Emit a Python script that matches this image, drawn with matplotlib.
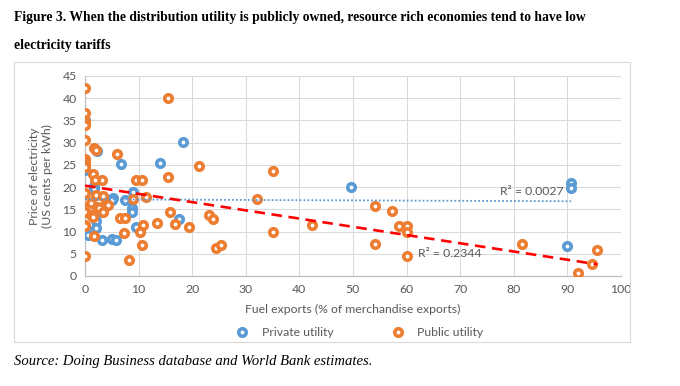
import matplotlib.pyplot as plt
import numpy as np
from matplotlib.patches import Rectangle

# fuel exports (% of merchandise exports) and price (US cents per kWh)
private_x = [0, 0, 2.2, 6.8, 14, 18.2, 1.7, 1.7, 5.3, 5.1, 7.5, 9.0, 8.7, 8.8, 3.1,
             2.0, 2.0, 0, 0.6, 3.2, 5.1, 5.7, 9.5, 17.6, 49.6, 90.7, 90.7, 89.9]
private_y = [35, 23.9, 28.2, 25.1, 25.4, 30.2, 20.3, 19.5, 17.5, 17.1, 17.1, 19.0, 15.2, 14.3, 14.3,
             12.4, 10.7, 10.7, 9.2, 8.1, 8.3, 8.1, 11.1, 12.8, 20.0, 21.0, 19.7, 6.8]

public_x = [0, 0, 0, 0, 0, 0, 0, 0, 0, 0, 0, 0, 0, 0, 0, 0,
            1.7, 2.0, 5.9, 15.5, 1.4, 3.2, 1.9, 9.6, 10.6, 15.5, 21.3, 2.0, 3.4, 9.0, 11.3,
            0.3, 1.2, 2.2, 2.7, 3.9, 4.2, 3.3, 1.2, 1.4, 6.5, 7.5, 15.9, 16.7, 13.5, 19.4,
            10.9, 10.3, 7.2, 1.6, 10.7, 8.3, 23.2, 23.9, 24.4, 25.3, 35.1, 32.0, 35.1, 42.4,
            54.1, 54.1, 57.3, 58.5, 60, 60, 60, 81.6, 95.6, 94.6, 92.0]
public_y = [42.4, 36.6, 34.9, 34.4, 33.9, 30.6, 26.3, 25.7, 25.4, 25.1, 24.6, 18.6, 14.3, 11.5, 11.2, 4.4,
            28.8, 28.4, 27.4, 40.0, 22.9, 21.5, 21.6, 21.6, 21.5, 22.2, 24.7, 18.2, 17.9, 17.3, 17.7,
            16.9, 16.4, 15.6, 15.2, 16.5, 16.0, 14.3, 13.7, 13.2, 13.0, 13.0, 14.3, 11.6, 11.9, 11.0,
            11.5, 9.8, 9.6, 8.9, 7.0, 3.6, 13.7, 12.8, 6.2, 7.0, 23.6, 17.3, 9.8, 11.5,
            15.8, 7.2, 14.6, 11.3, 11.3, 10.0, 4.5, 7.1, 5.9, 2.6, 0.6]

r2_private = "R² = 0.0027"
r2_public = "R² = 0.2344"

blue = '#5B9BD5'
orange = '#ED7D31'
gray = '#595959'
font = 'Lato'
fs = 8.8

fig = plt.figure(figsize=(6.8, 3.86), dpi=100)
ax = fig.add_axes([85/680, 1 - 276/386, 536/680, 200/386])

# chart frame
fig.patches.append(Rectangle((14/680, 1 - 342/386), 616/680, 280/386, transform=fig.transFigure,
                             fill=False, edgecolor='#D9D9D9', linewidth=0.8))

ax.plot(private_x, private_y, 'o', ms=5.4, mew=2.6, mfc='white', mec=blue,
        linestyle='none', label='Private utility', zorder=3)
ax.plot(public_x, public_y, 'o', ms=5.4, mew=2.6, mfc='white', mec=orange,
        linestyle='none', label='Public utility', zorder=4)

# linear trendlines
px = np.array(private_x)
p_fit = np.polyfit(px, private_y, 1)
xs = np.array([px.min(), px.max()])
ax.plot(xs, np.polyval(p_fit, xs), color=blue, linestyle=(0, (1, 1.2)), linewidth=1.3, zorder=5)

ux = np.array(public_x)
u_fit = np.polyfit(ux, public_y, 1)
xs = np.array([ux.min(), ux.max()])
ax.plot(xs, np.polyval(u_fit, xs), color='#FF0000', linestyle=(0, (4, 2.5)), linewidth=1.9, zorder=5)

ax.text(77.4, 19.0, r2_private, fontsize=fs, color=gray, family=font, va='center')
ax.text(62.1, 5.0, r2_public, fontsize=fs, color=gray, family=font, va='center')

ax.set_xlim(0, 100)
ax.set_ylim(0, 45)
ax.set_xticks(range(0, 101, 10))
ax.set_yticks(range(0, 46, 5))
ax.grid(True, color='#D9D9D9', linewidth=0.75)
ax.set_axisbelow(True)
for s in ['top', 'right']:
    ax.spines[s].set_visible(False)
for s in ['left', 'bottom']:
    ax.spines[s].set_color('#BFBFBF')
    ax.spines[s].set_linewidth(0.9)
ax.tick_params(length=0, pad=6, labelsize=fs, labelcolor=gray)
for lbl in ax.get_xticklabels() + ax.get_yticklabels():
    lbl.set_family(font)

ax.set_xlabel("Fuel exports (% of merchandise exports)", fontsize=fs, color=gray, family=font, labelpad=6)
ax.set_ylabel("Price of electricity\n(US cents per kWh)", fontsize=fs, color=gray, family=font,
              labelpad=7, linespacing=1.15)

leg = ax.legend(loc='center', bbox_to_anchor=(0.51, -0.285), ncol=2, frameon=False,
                prop={'family': font, 'size': fs}, columnspacing=4.5, handletextpad=0.85, handlelength=1.5)
for t in leg.get_texts():
    t.set_color(gray)

fig.text(14/680, 1 - 18/386, "Figure 3. When the distribution utility is publicly owned, resource rich economies tend to have low",
         family='Liberation Serif', weight='bold', fontsize=9.8, va='center')
fig.text(14/680, 1 - 46/386, "electricity tariffs",
         family='Liberation Serif', weight='bold', fontsize=9.8, va='center')
fig.text(14/680, 1 - 361/386, "Source: Doing Business database and World Bank estimates.",
         family='Liberation Serif', style='italic', fontsize=10.5, va='center')

fig.savefig('out.png', dpi=100)
